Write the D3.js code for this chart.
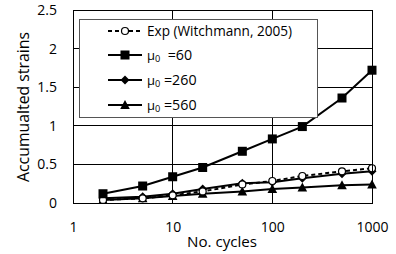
<!DOCTYPE html>
<html><head><meta charset="utf-8">
<script src="https://cdn.jsdelivr.net/npm/d3@7"></script>
<style>body{margin:0;background:#fff}text{font-family:"Open Sans",sans-serif;fill:#000}</style>
</head><body>
<svg id="c" width="396" height="254"></svg>
<script>
const cycles = [2, 5, 10, 20, 50, 100, 200, 500, 1000];
const expW   = [0.04, 0.06, 0.10, 0.15, 0.24, 0.285, 0.35, 0.41, 0.45];
const mu60   = [0.12, 0.22, 0.34, 0.46, 0.67, 0.83, 0.99, 1.36, 1.72];
const mu260  = [0.06, 0.08, 0.12, 0.18, 0.255, 0.27, 0.32, 0.38, 0.41];
const mu560  = [0.04, 0.06, 0.09, 0.12, 0.15, 0.18, 0.20, 0.23, 0.24];
const xTicks = [1, 10, 100, 1000];
const yTicks = [0, 0.5, 1, 1.5, 2, 2.5];

const svg = d3.select("#c");
const L = 73, R = 372, T = 10, B = 203;
const x = d3.scaleLog().domain([1, 1000]).range([L, R]);
const y = d3.scaleLinear().domain([0, 2.5]).range([B, T]);

function fit(sel, target) {
  const w = sel.node().getComputedTextLength();
  const fs = parseFloat(sel.attr("font-size"));
  sel.attr("font-size", (fs * target / w).toFixed(2));
}

// gridlines
svg.append("g").selectAll("line").data(yTicks).join("line")
  .attr("x1", L).attr("x2", R).attr("y1", d => y(d)).attr("y2", d => y(d))
  .attr("stroke", "#000").attr("stroke-width", 1).attr("shape-rendering", "crispEdges");
svg.append("g").selectAll("line").data(xTicks).join("line")
  .attr("y1", T).attr("y2", B).attr("x1", d => x(d)).attr("x2", d => x(d))
  .attr("stroke", "#000").attr("stroke-width", 1).attr("shape-rendering", "crispEdges");

// axes labels via d3 axes (no tick lines)
const ya = svg.append("g").attr("transform", `translate(${L},0)`)
  .call(d3.axisLeft(y).tickValues(yTicks).tickSize(0).tickPadding(16).tickFormat(d3.format("")));
const xa = svg.append("g").attr("transform", `translate(0,${B})`)
  .call(d3.axisBottom(x).tickValues(xTicks).tickSize(0).tickPadding(19).tickFormat(d3.format("")));
[ya, xa].forEach(a => { a.select(".domain").remove(); a.selectAll("text").attr("font-size", 14).attr("font-family", '"Open Sans",sans-serif'); });

const xt = svg.append("text").attr("x", 222).attr("y", 247).attr("text-anchor", "middle").attr("font-size", 14).text("No. cycles");
fit(xt, 70);
const yt = svg.append("text").attr("transform", "translate(29,107) rotate(-90)").attr("text-anchor", "middle").attr("font-size", 14).text("Accumualted strains");
fit(yt, 150);

// series
const series = [
  {name: "exp", vals: expW, dash: "4,3", marker: "circle"},
  {name: "60", vals: mu60, dash: null, marker: "square"},
  {name: "260", vals: mu260, dash: null, marker: "diamond"},
  {name: "560", vals: mu560, dash: null, marker: "triangle"}
];
const line = d3.line().x((d, i) => x(cycles[i])).y(d => y(d));
function drawMarker(g, type, cx, cy) {
  if (type === "circle") g.append("circle").attr("cx", cx).attr("cy", cy).attr("r", 3.5).attr("fill", "#fff").attr("stroke", "#000").attr("stroke-width", 1.2);
  else if (type === "square") g.append("rect").attr("x", cx - 4.5).attr("y", cy - 4.5).attr("width", 9).attr("height", 9).attr("fill", "#000");
  else if (type === "diamond") g.append("path").attr("d", `M${cx},${cy-4.5}L${cx+4.5},${cy}L${cx},${cy+4.5}L${cx-4.5},${cy}Z`).attr("fill", "#000");
  else g.append("path").attr("d", `M${cx},${cy-5}L${cx+4.8},${cy+4}L${cx-4.8},${cy+4}Z`).attr("fill", "#000");
}
const order = [3, 2, 0, 1];
order.forEach(k => {
  const s = series[k];
  const g = svg.append("g");
  g.append("path").attr("d", line(s.vals)).attr("fill", "none").attr("stroke", "#000").attr("stroke-width", 2)
    .attr("stroke-dasharray", s.dash);
  s.vals.forEach((v, i) => drawMarker(g, s.marker, x(cycles[i]), y(v)));
});

// frame
svg.append("rect").attr("x", L).attr("y", T).attr("width", R - L).attr("height", B - T)
  .attr("fill", "none").attr("stroke", "#000").attr("stroke-width", 1).attr("shape-rendering", "crispEdges");

// legend
const lg = svg.append("g");
lg.append("rect").attr("x", 79.5).attr("y", 19.5).attr("width", 238).attr("height", 98)
  .attr("fill", "#fff").attr("stroke", "#555").attr("stroke-width", 1);
const rows = [31, 55, 80, 105];
const labels = [null, "60", "260", "560"];
let legFs = 13;
series.forEach((s, i) => {
  const yy = rows[i];
  lg.append("line").attr("x1", 108).attr("x2", 142).attr("y1", yy).attr("y2", yy)
    .attr("stroke", "#000").attr("stroke-width", 2).attr("stroke-dasharray", s.dash);
  drawMarker(lg, s.marker, 125, yy);
  const t = lg.append("text").attr("x", 147).attr("y", yy + 5).attr("font-size", legFs).style("white-space", "pre");
  if (i === 0) { t.text("Exp (Witchmann, 2005)"); fit(t, 145); legFs = parseFloat(t.attr("font-size")); }
  else {
    t.append("tspan").attr("font-size", legFs * 0.95).text("μ");
    t.append("tspan").attr("font-size", legFs * 0.68).attr("dy", 2).text("0");
    t.append("tspan").attr("dy", -2).attr("font-size", legFs * 1.05).text(i === 1 ? "  =" + labels[i] : " =" + labels[i]);
  }
});
</script>
</body></html>
